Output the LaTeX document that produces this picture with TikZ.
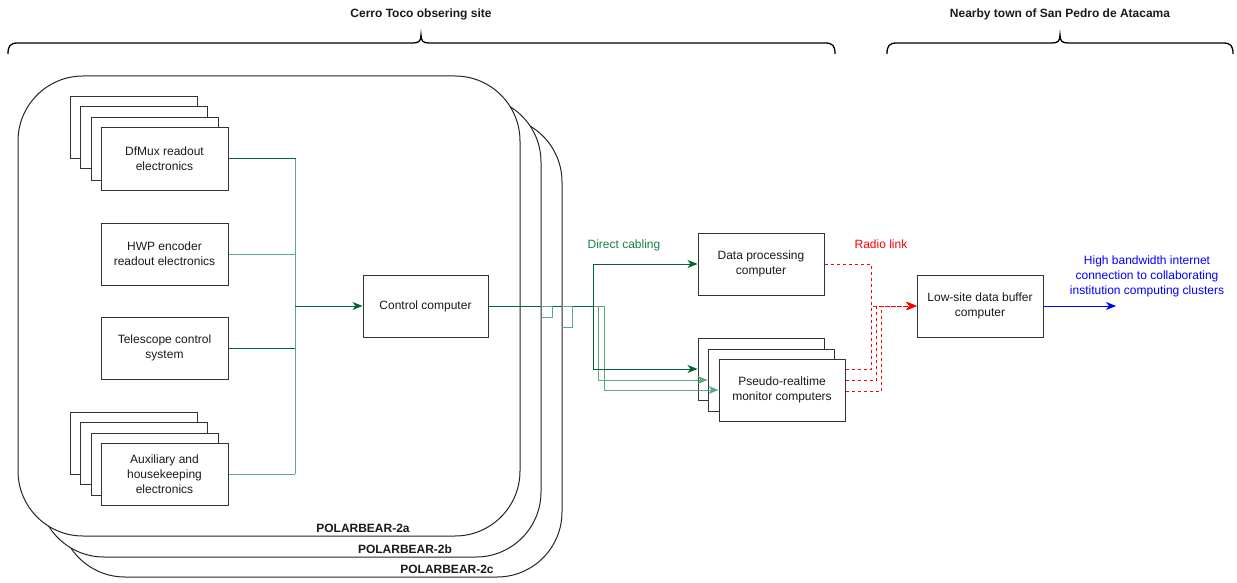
\documentclass[tikz,border=0pt]{standalone}
\usepackage{fontspec}
\setmainfont{Liberation Sans}
\usetikzlibrary{arrows.meta}
\definecolor{dgreen}{HTML}{006633}
\definecolor{lgreen}{HTML}{5CA882}
\definecolor{tgreen}{HTML}{16804A}
\definecolor{txt}{HTML}{1A1A1A}
\definecolor{rlink}{HTML}{FF0000}
\definecolor{blink}{HTML}{0000FF}
\begin{document}
\begin{tikzpicture}[x=1pt,y=-1pt,line width=1pt,
  box/.style={draw=black!80,fill=white,minimum width=127pt,minimum height=62pt,inner sep=0pt,align=center,font=\fontsize{12}{15}\selectfont,text=txt},
  panel/.style={draw=black!85,fill=white,rounded corners=65pt,minimum width=502pt,minimum height=460pt,inner sep=0pt},
  plabel/.style={font=\fontsize{12}{14}\selectfont\bfseries,text=txt},
  head/.style={font=\fontsize{12}{14}\selectfont\bfseries,text=txt},
  tip/.style={-{Stealth[length=10pt,width=8pt,inset=3pt]}},
  dg/.style={draw=dgreen},
  lg/.style={draw=lgreen},
  rd/.style={draw=rlink,dash pattern=on 3pt off 3pt},
  bracepath/.style={draw=black,line width=1.3pt}]
\useasboundingbox (0,0) rectangle (1237,583);

% headers and braces
\node[head] (hleft) at (421,14) {Cerro Toco obsering site};
\node[head] (hright) at (1060,14) {Nearby town of San Pedro de Atacama};
\draw[bracepath] (8,54) .. controls (8,46) and (10,43) .. (18,43) -- (413,43)
  .. controls (419,43) and (421,41) .. (421,35)
  .. controls (421,41) and (423,43) .. (429,43) -- (825,43)
  .. controls (833,43) and (835,46) .. (835,54);
\draw[bracepath] (887,54) .. controls (887,46) and (889,43) .. (897,43) -- (1052,43)
  .. controls (1058,43) and (1060,41) .. (1060,35)
  .. controls (1060,41) and (1062,43) .. (1068,43) -- (1223,43)
  .. controls (1231,43) and (1233,46) .. (1233,54);

% telescope panels
\node[panel] (pbc) at (311,347) {};
\node[panel] (pbb) at (290,327) {};
\node[panel] (pba) at (269,306) {};
\node[plabel] (la) at (363,528) {POLARBEAR-2a};
\node[plabel] (lb) at (405,549) {POLARBEAR-2b};
\node[plabel] (lc) at (447,569.5) {POLARBEAR-2c};

% DfMux stack
\node[box] (df1) at (133.5,128) {};
\node[box] (df2) at (143.5,138) {};
\node[box] (df3) at (154.5,149) {};
\node[box] (dfmux) at (164.5,159) {DfMux readout\\electronics};
\node[box] (hwp) at (164.5,254) {HWP encoder\\readout electronics};
\node[box] (tel) at (164.5,348) {Telescope control\\system};
% Aux stack
\node[box] (ax1) at (133.5,443) {};
\node[box] (ax2) at (143.5,453) {};
\node[box] (ax3) at (154.5,464) {};
\node[box] (aux) at (164.5,474) {Auxiliary and\\housekeeping\\electronics};

\node[box,minimum width=125pt] (ctrl) at (425.5,306) {Control computer};

% bus
\coordinate (bus) at (295,306);
\draw[dg] (dfmux.east) -| (bus);
\draw[dg] (tel.east) -| (bus);
\draw[lg] (dfmux.east -| bus) -- (aux.east -| bus);
\draw[lg] (hwp.east) -- (hwp.east -| bus);
\draw[lg] (aux.east) -- (aux.east -| bus);
\draw[dg,tip] (bus) -- (ctrl.west);

% right side boxes
\node[box,minimum width=126pt] (dp) at (761,264) {Data processing\\computer};
\node[box,minimum width=126pt] (pm1) at (761,369) {};
\node[box,minimum width=126pt] (pm2) at (771,380) {};
\node[box,minimum width=126pt] (pm3) at (782,390) {Pseudo-realtime\\monitor computers};
\node[box,minimum width=126pt] (low) at (980,306) {Low-site data buffer\\computer};

% green connectors from control computer
\coordinate (j1) at (593,306);
\coordinate (j2) at (598,306);
\coordinate (j3) at (604,306);
\draw[lg] (ctrl.east) -- (j3);
\draw[lg,tip] (j2) |- (pm2.west);
\draw[lg,tip] (j3) |- (pm3.west);
\draw[dg] (ctrl.east) -- (j1);
\draw[dg,tip] (j1) |- (dp.west);
\draw[dg,tip] (j1) |- (pm1.west);
\coordinate (h1) at (541,306);
\coordinate (h2) at (552,317);
\coordinate (h3) at (562,306);
\coordinate (h4) at (572,327);
\draw[lg] (h1) -| (h2) -- (h2 -| h1);
\draw[lg] (h3) -| (h4) -- (h4 -| h3);

% radio links
\coordinate (r0) at (871,306);
\draw[rd,tip] (dp.east) -| (r0) -- (low.west);
\draw[rd,tip] ([yshift=21pt]pm3.east) -| (r0) -- (low.west);
\draw[rd,tip] ([yshift=10pt]pm3.east) -| ([xshift=5pt]r0) -- (low.west);
\draw[rd,tip] ([yshift=-1pt]pm3.east) -| ([xshift=10pt]r0) -- (low.west);

% internet
\coordinate (net) at (1116,306);
\draw[draw=blink,tip] (low.east) -- (net);

% labels
\node[font=\fontsize{12}{14}\selectfont,text=tgreen] (tdc) at (624,245) {Direct cabling};
\node[font=\fontsize{12}{14}\selectfont,text=rlink] (trl) at (881,244) {Radio link};
\node[font=\fontsize{12}{15}\selectfont,text=blink,align=center] (tnet) at (1147,276) {High bandwidth internet\\connection to collaborating\\institution computing clusters};
\end{tikzpicture}
\end{document}
